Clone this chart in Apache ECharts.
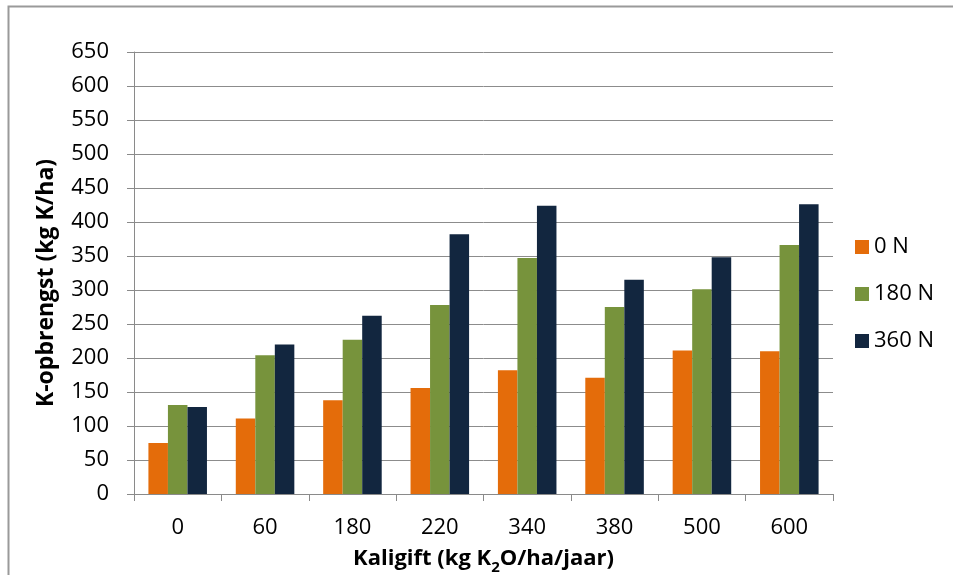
<!DOCTYPE html>
<html>
<head>
<meta charset="utf-8">
<script src="https://cdn.jsdelivr.net/npm/echarts@6/dist/echarts.min.js"></script>
<style>
html,body{margin:0;padding:0;background:#fff;}
#c{width:953px;height:575px;}
</style>
</head>
<body>
<div id="c"></div>
<script>
const categories = ['0', '60', '180', '220', '340', '380', '500', '600'];
const seriesNames = ['0 N', '180 N', '360 N'];
const values0N = [75, 111, 138, 156, 182, 171, 211, 210];
const values180N = [131, 204, 227, 278, 347, 275, 301, 366];
const values360N = [128, 220, 262, 382, 424, 315, 348, 426];
const colors = ['#E46C0A', '#77933C', '#12263F'];

const FONT = 'Open Sans';
const chart = echarts.init(document.getElementById('c'), null, {renderer: 'canvas'});
const mk = (name, data, i) => ({
  name: name, type: 'bar', data: data,
  barGap: '0%', barCategoryGap: '33%',
  itemStyle: {color: colors[i]},
  emphasis: {disabled: true}
});
chart.setOption({
  animation: false,
  backgroundColor: '#ffffff',
  textStyle: {fontFamily: FONT},
  graphic: [{
    type: 'rect', left: 6, top: 4,
    shape: {width: 1000, height: 700},
    style: {fill: 'none', stroke: '#9a9a9a', lineWidth: 2},
    silent: true
  }],
  grid: {left: 134, right: 120, top: 52, bottom: 81, containLabel: false, outerBoundsMode: 'none'},
  legend: {
    orient: 'vertical', left: 850, top: 231,
    itemWidth: 14, itemHeight: 14, itemGap: 25,
    icon: 'rect',
    textStyle: {fontFamily: FONT, fontSize: 22, color: '#000'},
    data: seriesNames
  },
  xAxis: {
    type: 'category', data: categories,
    axisLine: {lineStyle: {color: '#8a8a8a', width: 1}},
    axisTick: {show: true, length: 7, lineStyle: {color: '#8a8a8a'}},
    axisLabel: {color: '#000', fontSize: 22, fontFamily: FONT, margin: 23},
    name: '{m|Kaligift (kg K}{s|2}{m|O/ha/jaar)}',
    nameLocation: 'middle', nameGap: 49,
    nameTextStyle: {
      rich: {
        m: {fontFamily: FONT, fontSize: 22, fontWeight: 'bold', color: '#000', lineHeight: 32, verticalAlign: 'middle'},
        s: {fontFamily: FONT, fontSize: 15, fontWeight: 'bold', color: '#000', lineHeight: 15, verticalAlign: 'bottom'}
      }
    }
  },
  yAxis: {
    type: 'value', min: 0, max: 650, interval: 50,
    axisLine: {show: true, lineStyle: {color: '#8a8a8a', width: 1}},
    axisTick: {show: true, length: 7, lineStyle: {color: '#8a8a8a'}},
    axisLabel: {color: '#000', fontSize: 22, fontFamily: FONT, margin: 25},
    splitLine: {lineStyle: {color: '#8c8c8c', width: 1}},
    name: 'K-opbrengst (kg K/ha)',
    nameLocation: 'middle', nameGap: 76, nameRotate: 90,
    nameTextStyle: {fontFamily: FONT, fontSize: 23, fontWeight: 'bold', color: '#000', padding: [0, 20, 0, 0]}
  },
  series: [mk(seriesNames[0], values0N, 0), mk(seriesNames[1], values180N, 1), mk(seriesNames[2], values360N, 2)]
});
</script>
</body>
</html>
